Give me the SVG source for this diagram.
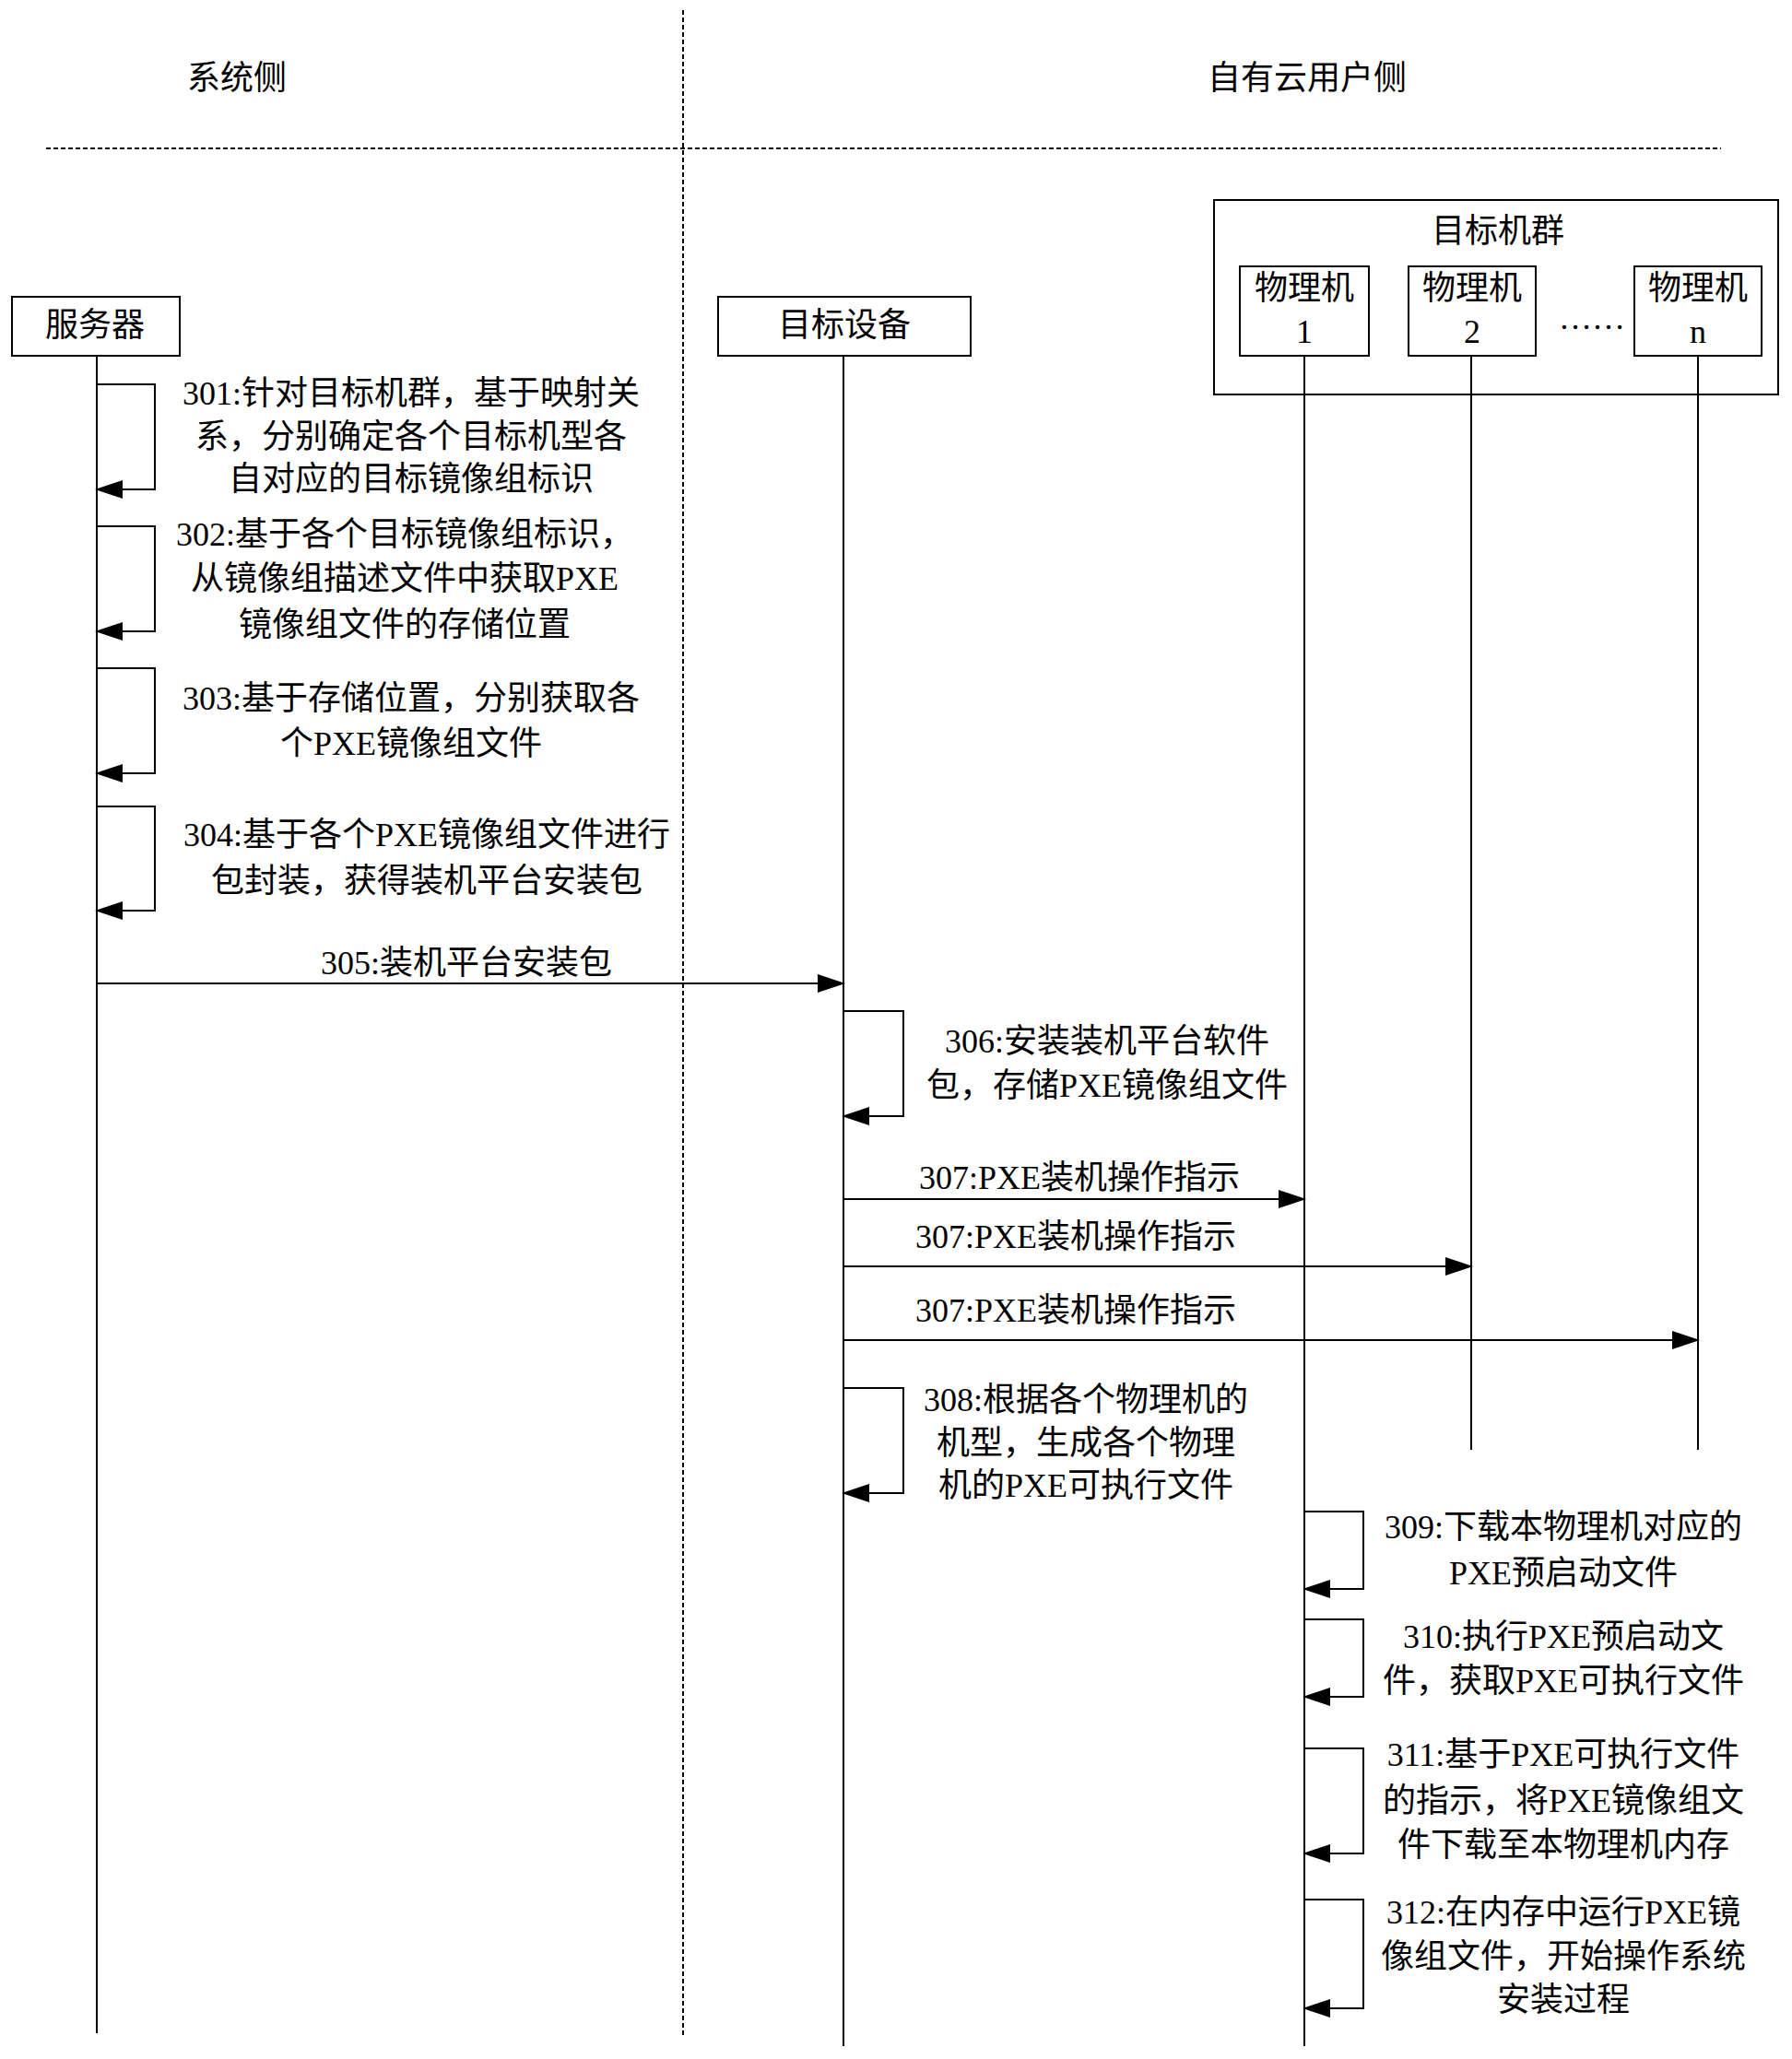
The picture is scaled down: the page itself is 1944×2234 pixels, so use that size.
<svg xmlns="http://www.w3.org/2000/svg" width="1944" height="2234" viewBox="0 0 1944 2234">
<style>
text{font-family:"Liberation Serif","Noto Sans CJK SC",serif;font-size:36px;fill:#000;text-anchor:middle;dominant-baseline:central}
.box{fill:#fff;stroke:#000;stroke-width:2}
.life{stroke:#000;stroke-width:2;fill:none}
.dash{stroke:#000;stroke-width:2;stroke-dasharray:5,3;fill:none}
.msg{stroke:#000;stroke-width:2;fill:none;marker-end:url(#ah)}
</style>
<defs>
<marker id="ah" markerUnits="userSpaceOnUse" markerWidth="30" markerHeight="20" refX="28" refY="10" orient="auto">
<path d="M0,0 L30,10 L0,20 Z" fill="#000"/>
</marker>
</defs>
<rect width="1944" height="2234" fill="#fff"/>
<g id="lanes">
<text x="257" y="85">系统侧</text>
<text x="1418" y="85">自有云用户侧</text>
<line class="dash" x1="50" y1="161" x2="1867" y2="161"/>
<line class="dash" x1="741" y1="11" x2="741" y2="2209"/>
</g>
<g id="cluster">
<rect class="box" x="1317" y="217" width="612" height="211"/>
<text x="1625" y="251">目标机群</text>
<text x="1727" y="345">……</text>
</g>
<g id="connectors">
<line class="life" x1="105" y1="386" x2="105" y2="2206"/>
<line class="life" x1="915" y1="386" x2="915" y2="2220"/>
<line class="life" x1="1415" y1="386" x2="1415" y2="2220"/>
<line class="life" x1="1596" y1="386" x2="1596" y2="1573"/>
<line class="life" x1="1842" y1="386" x2="1842" y2="1573"/>
<polyline class="msg" points="105,417 168,417 168,531 105,531"/>
<polyline class="msg" points="105,571 168,571 168,685 105,685"/>
<polyline class="msg" points="105,725 168,725 168,839 105,839"/>
<polyline class="msg" points="105,875 168,875 168,988 105,988"/>
<line class="msg" x1="105" y1="1067" x2="915" y2="1067"/>
<polyline class="msg" points="915,1097 980,1097 980,1211 915,1211"/>
<line class="msg" x1="915" y1="1301" x2="1415" y2="1301"/>
<line class="msg" x1="915" y1="1374" x2="1596" y2="1374"/>
<line class="msg" x1="915" y1="1454" x2="1842" y2="1454"/>
<polyline class="msg" points="915,1506 980,1506 980,1620 915,1620"/>
<polyline class="msg" points="1415,1640 1479,1640 1479,1724 1415,1724"/>
<polyline class="msg" points="1415,1757 1479,1757 1479,1841 1415,1841"/>
<polyline class="msg" points="1415,1897 1479,1897 1479,2011 1415,2011"/>
<polyline class="msg" points="1415,2061 1479,2061 1479,2179 1415,2179"/>
</g>
<g id="server"><rect class="box" x="13" y="322" width="182" height="64"/><text x="103" y="353">服务器</text></g>
<g id="target"><rect class="box" x="779" y="322" width="274" height="64"/><text x="916" y="353">目标设备</text></g>
<g id="pm1"><rect class="box" x="1345" y="289" width="140" height="97"/><text x="1415" y="313">物理机</text><text x="1415" y="360">1</text></g>
<g id="pm2"><rect class="box" x="1528" y="289" width="138" height="97"/><text x="1597" y="313">物理机</text><text x="1597" y="360">2</text></g>
<g id="pmn"><rect class="box" x="1773" y="289" width="138" height="97"/><text x="1842" y="313">物理机</text><text x="1842" y="360">n</text></g>
<g id="labels">
<text x="446" y="427">301:针对目标机群，基于映射关</text>
<text x="446" y="474">系，分别确定各个目标机型各</text>
<text x="446" y="520">自对应的目标镜像组标识</text>
<text x="439" y="580">302:基于各个目标镜像组标识，</text>
<text x="439" y="628">从镜像组描述文件中获取PXE</text>
<text x="439" y="678">镜像组文件的存储位置</text>
<text x="446" y="758">303:基于存储位置，分别获取各</text>
<text x="446" y="807">个PXE镜像组文件</text>
<text x="463" y="906">304:基于各个PXE镜像组文件进行</text>
<text x="463" y="956">包封装，获得装机平台安装包</text>
<text x="506" y="1045">305:装机平台安装包</text>
<text x="1201" y="1130">306:安装装机平台软件</text>
<text x="1201" y="1178">包，存储PXE镜像组文件</text>
<text x="1171" y="1278">307:PXE装机操作指示</text>
<text x="1167" y="1342">307:PXE装机操作指示</text>
<text x="1167" y="1422">307:PXE装机操作指示</text>
<text x="1178" y="1519">308:根据各个物理机的</text>
<text x="1178" y="1566">机型，生成各个物理</text>
<text x="1178" y="1612">机的PXE可执行文件</text>
<text x="1696" y="1657">309:下载本物理机对应的</text>
<text x="1696" y="1707">PXE预启动文件</text>
<text x="1696" y="1776">310:执行PXE预启动文</text>
<text x="1696" y="1824">件，获取PXE可执行文件</text>
<text x="1696" y="1904">311:基于PXE可执行文件</text>
<text x="1696" y="1954">的指示，将PXE镜像组文</text>
<text x="1696" y="2002">件下载至本物理机内存</text>
<text x="1696" y="2075">312:在内存中运行PXE镜</text>
<text x="1696" y="2123">像组文件，开始操作系统</text>
<text x="1696" y="2170">安装过程</text>
</g>
</svg>
